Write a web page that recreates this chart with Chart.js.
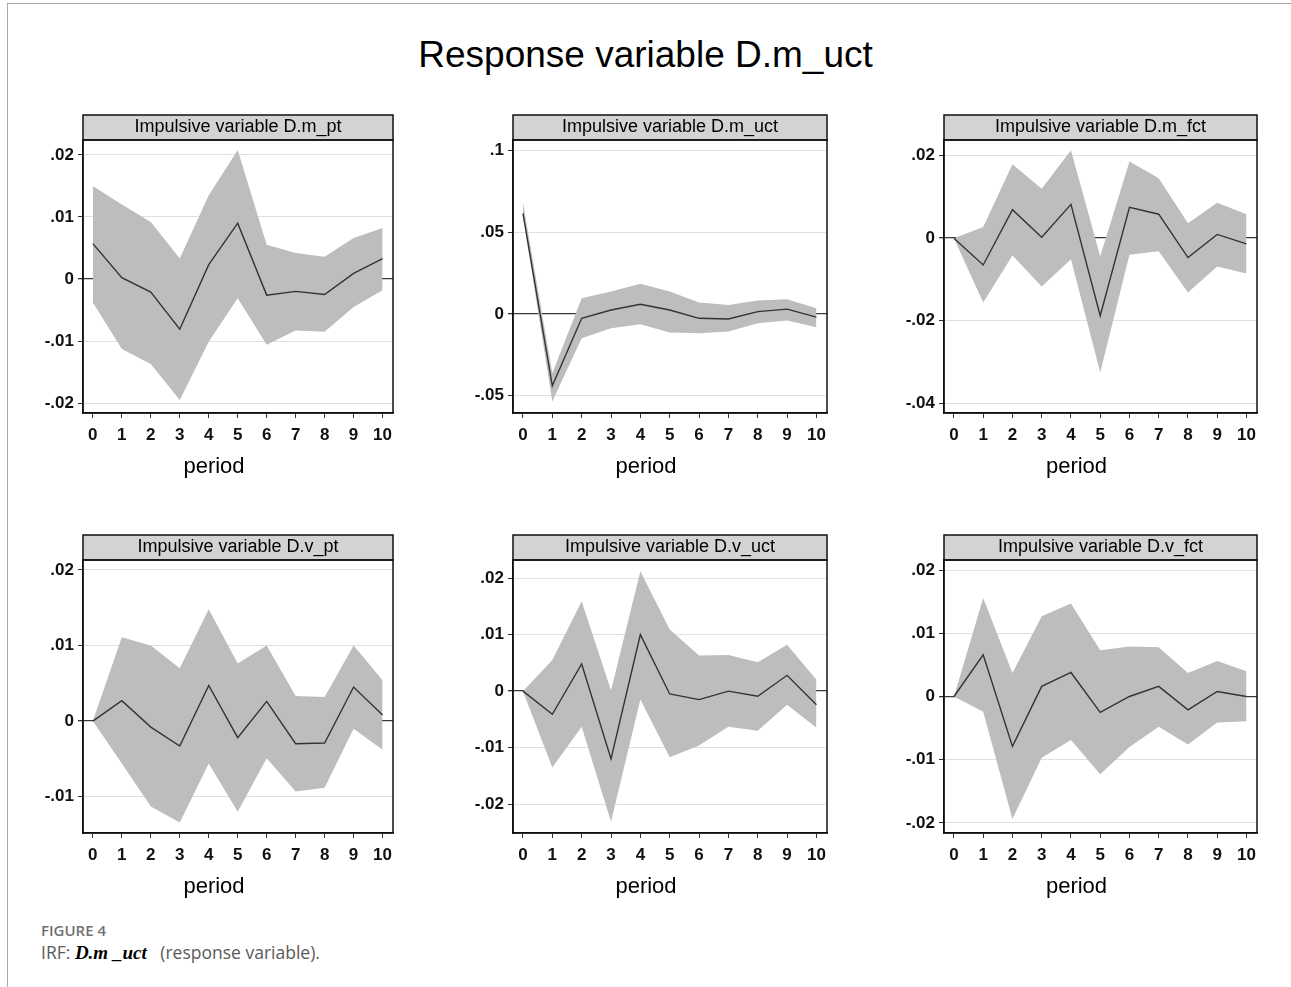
<!DOCTYPE html>
<html>
<head>
<meta charset="utf-8">
<title>IRF: D.m_uct</title>
<script src="https://cdn.jsdelivr.net/npm/chart.js"></script>
<style>
    body { margin: 0; background: #fff; font-family: Arial, "Liberation Sans", sans-serif; }
    #page { position: relative; width: 1291px; height: 987px; overflow: hidden; }
    #frame { position: absolute; left: 7px; top: 3px; right: -5px; bottom: -5px;
             border-top: 1.5px solid #a8a8a8; border-left: 1.5px solid #a8a8a8; }
    #title { position: absolute; left: 0; width: 1291px; top: 34px; text-align: center;
             font-size: 37px; line-height: 42px; color: #000; }
    .panel { position: absolute; }
    .xlab { position: absolute; width: 200px; text-align: center; font-size: 22px; line-height: 26px; color: #000; }
    #figno { position: absolute; left: 41px; top: 920px; font: 600 15px "Open Sans", sans-serif; color: #707070; }
    #caption { position: absolute; left: 41px; top: 940px; font: 17.5px "Open Sans", sans-serif; color: #5a5a5a; }
    #caption i { font-family: "Liberation Serif", serif; font-weight: bold; color: #000; font-size: 19px; }
</style>
</head>
<body>
<div id="page">
    <div id="frame"></div>
    <div id="title">Response variable D.m_uct</div>
    <div id="figno">FIGURE 4</div>
    <div id="caption">IRF: <i>D.m _uct</i>&nbsp;&nbsp; (response variable).</div>
</div>

<script>
    // periods 0..10
    const periods = [0, 1, 2, 3, 4, 5, 6, 7, 8, 9, 10];

    // impulse D.m_pt
    const mptIrf = [0.0057, 0.0002, -0.0021, -0.0081, 0.0023, 0.0090, -0.0026, -0.0020, -0.0025, 0.0009, 0.0033];
    const mptLo  = [-0.0038, -0.0113, -0.0137, -0.0195, -0.0101, -0.0031, -0.0106, -0.0083, -0.0085, -0.0045, -0.0018];
    const mptHi  = [0.0150, 0.0120, 0.0092, 0.0033, 0.0135, 0.0208, 0.0055, 0.0042, 0.0036, 0.0066, 0.0082];
    const mptTicks = [-0.02, -0.01, 0, 0.01, 0.02];

    // impulse D.m_uct
    const mucIrf = [0.0616, -0.0441, -0.0027, 0.0024, 0.0059, 0.0024, -0.0027, -0.0031, 0.0014, 0.0029, -0.0020];
    const mucLo  = [0.0596, -0.0537, -0.0149, -0.0088, -0.0063, -0.0114, -0.0118, -0.0108, -0.0057, -0.0041, -0.0082];
    const mucHi  = [0.0680, -0.0363, 0.0096, 0.0137, 0.0184, 0.0137, 0.0069, 0.0055, 0.0082, 0.0090, 0.0035];
    const mucTicks = [-0.05, 0, 0.05, 0.1];

    // impulse D.m_fct
    const mfcIrf = [0, -0.0065, 0.0069, 0.0002, 0.0082, -0.0188, 0.0075, 0.0058, -0.0047, 0.0009, -0.0014];
    const mfcLo  = [0, -0.0156, -0.0042, -0.0117, -0.0051, -0.0326, -0.0040, -0.0032, -0.0132, -0.0069, -0.0086];
    const mfcHi  = [0, 0.0027, 0.0179, 0.0120, 0.0213, -0.0044, 0.0186, 0.0145, 0.0036, 0.0086, 0.0058];
    const mfcTicks = [-0.04, -0.02, 0, 0.02];

    // impulse D.v_pt
    const vptIrf = [0, 0.0027, -0.0008, -0.0033, 0.0047, -0.0022, 0.0026, -0.0030, -0.0029, 0.0045, 0.0008];
    const vptLo  = [0, -0.0056, -0.0113, -0.0134, -0.0056, -0.0120, -0.0049, -0.0093, -0.0088, -0.0010, -0.0038];
    const vptHi  = [0, 0.0111, 0.0100, 0.0070, 0.0148, 0.0076, 0.0100, 0.0033, 0.0032, 0.0100, 0.0054];
    const vptTicks = [-0.01, 0, 0.01, 0.02];

    // impulse D.v_uct
    const vucIrf = [0, -0.0041, 0.0048, -0.0120, 0.0100, -0.0005, -0.0015, 0, -0.0009, 0.0028, -0.0024];
    const vucLo  = [0, -0.0135, -0.0063, -0.0231, -0.0015, -0.0117, -0.0096, -0.0063, -0.0070, -0.0024, -0.0065];
    const vucHi  = [0, 0.0055, 0.0159, 0.0001, 0.0212, 0.0109, 0.0063, 0.0064, 0.0051, 0.0082, 0.0020];
    const vucTicks = [-0.02, -0.01, 0, 0.01, 0.02];

    // impulse D.v_fct
    const vfcIrf = [0, 0.0066, -0.0079, 0.0016, 0.0038, -0.0025, 0, 0.0016, -0.0021, 0.0008, 0];
    const vfcLo  = [0, -0.0024, -0.0194, -0.0097, -0.0069, -0.0123, -0.0080, -0.0048, -0.0076, -0.0041, -0.0039];
    const vfcHi  = [0, 0.0156, 0.0037, 0.0127, 0.0147, 0.0073, 0.0079, 0.0078, 0.0037, 0.0056, 0.0040];
    const vfcTicks = [-0.02, -0.01, 0, 0.01, 0.02];

    const panels = [
        { title: 'Impulsive variable D.m_pt',  irf: mptIrf, lo: mptLo, hi: mptHi, ticks: mptTicks, yMin: -0.0216, yMax: 0.0224, left: 83,  top: 112, w: 310 },
        { title: 'Impulsive variable D.m_uct', irf: mucIrf, lo: mucLo, hi: mucHi, ticks: mucTicks, yMin: -0.0607, yMax: 0.1065, left: 513, top: 112, w: 314 },
        { title: 'Impulsive variable D.m_fct', irf: mfcIrf, lo: mfcLo, hi: mfcHi, ticks: mfcTicks, yMin: -0.0424, yMax: 0.0238, left: 944, top: 112, w: 313 },
        { title: 'Impulsive variable D.v_pt',  irf: vptIrf, lo: vptLo, hi: vptHi, ticks: vptTicks, yMin: -0.0148, yMax: 0.0213, left: 83,  top: 532, w: 310 },
        { title: 'Impulsive variable D.v_uct', irf: vucIrf, lo: vucLo, hi: vucHi, ticks: vucTicks, yMin: -0.0251, yMax: 0.0232, left: 513, top: 532, w: 314 },
        { title: 'Impulsive variable D.v_fct', irf: vfcIrf, lo: vfcLo, hi: vfcHi, ticks: vfcTicks, yMin: -0.0216, yMax: 0.0216, left: 944, top: 532, w: 313 }
    ];

    const Y_AXIS_W = 60, X_AXIS_H = 75, PAD_R = 12, CANVAS_H = 376;

    function stataLabel(v) {
        if (Math.abs(v) < 1e-12) return '0';
        const s = String(Number(Math.abs(v).toFixed(4))).replace(/^0/, '');
        return (v < 0 ? '-' : '') + s;
    }

    // grey strip above the plot and the box around it
    const stripPlugin = {
        id: 'strip',
        beforeDraw(chart) {
            const { ctx, chartArea: a } = chart;
            ctx.save();
            ctx.fillStyle = '#d3d3d3';
            ctx.fillRect(a.left, a.top - 25, a.right - a.left, 25);
            ctx.restore();
        },
        afterDraw(chart) {
            const { ctx, chartArea: a } = chart;
            ctx.save();
            ctx.strokeStyle = '#111';
            ctx.lineWidth = 1.5;
            ctx.strokeRect(a.left, a.top - 25, a.right - a.left, 25);
            ctx.strokeRect(a.left, a.top, a.right - a.left, a.bottom - a.top);
            ctx.restore();
        }
    };

    const page = document.getElementById('page');

    panels.forEach(p => {
        const div = document.createElement('div');
        div.className = 'panel';
        div.style.left = (p.left - Y_AXIS_W) + 'px';
        div.style.top = p.top + 'px';
        const canvas = document.createElement('canvas');
        canvas.width = Y_AXIS_W + p.w + PAD_R;
        canvas.height = CANVAS_H;
        div.appendChild(canvas);
        page.appendChild(div);

        // axis title: Stata centres it a bit left of the plot centre
        const lab = document.createElement('div');
        lab.className = 'xlab';
        lab.textContent = 'period';
        lab.style.left = (p.left + p.w / 2 - 24 - 100) + 'px';
        lab.style.top = (p.top + 341) + 'px';
        page.appendChild(lab);

        const toPts = arr => periods.map((x, i) => ({ x: x, y: arr[i] }));

        new Chart(canvas.getContext('2d'), {
            type: 'line',
            data: {
                datasets: [
                    { data: toPts(p.irf), borderColor: '#333', borderWidth: 1.4, pointRadius: 0, fill: false, order: 0 },
                    { data: toPts(p.lo), borderWidth: 0, pointRadius: 0, fill: false, order: 2 },
                    { data: toPts(p.hi), borderWidth: 0, pointRadius: 0, fill: '-1', backgroundColor: '#bdbdbd', order: 1 }
                ]
            },
            options: {
                responsive: false,
                animation: false,
                events: [],
                elements: { line: { tension: 0 } },
                layout: { padding: { top: 0, right: PAD_R, left: 0, bottom: 0 } },
                plugins: {
                    legend: { display: false },
                    tooltip: { enabled: false },
                    title: {
                        display: true,
                        text: p.title,
                        fullSize: false,
                        color: '#000',
                        font: { family: 'Arial', size: 18, weight: 'normal', lineHeight: 1.2 },
                        padding: { top: 4.7, bottom: 1.7 }
                    }
                },
                scales: {
                    x: {
                        type: 'linear',
                        min: -0.34,
                        max: 10.36,
                        afterBuildTicks: axis => { axis.ticks = periods.map(v => ({ value: v })); },
                        afterFit: axis => { axis.height = X_AXIS_H; },
                        ticks: {
                            autoSkip: false, maxRotation: 0, padding: 7,
                            color: '#111',
                            font: { family: 'Arial', size: 17, weight: 'bold' }
                        },
                        grid: { drawOnChartArea: false, tickLength: 5, tickColor: '#333', lineWidth: 1 },
                        border: { color: '#111', width: 1.5 }
                    },
                    y: {
                        min: p.yMin,
                        max: p.yMax,
                        afterBuildTicks: axis => { axis.ticks = p.ticks.map(v => ({ value: v })); },
                        afterFit: axis => { axis.width = Y_AXIS_W; },
                        ticks: {
                            padding: 4,
                            color: '#111',
                            font: { family: 'Arial', size: 17, weight: 'bold' },
                            callback: v => stataLabel(v)
                        },
                        grid: {
                            color: c => (c.tick && c.tick.value === 0) ? '#3a3a3a' : '#e0e0e0',
                            lineWidth: c => (c.tick && c.tick.value === 0) ? 1.3 : 1,
                            tickLength: 5,
                            tickColor: '#333'
                        },
                        border: { color: '#111', width: 1.5 }
                    }
                }
            },
            plugins: [stripPlugin]
        });
    });
</script>
</body>
</html>
